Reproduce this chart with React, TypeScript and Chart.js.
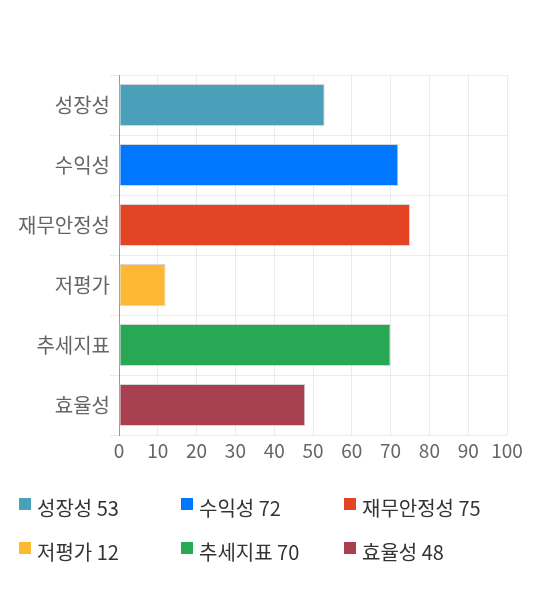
import React, { useEffect, useRef } from 'react';
import { Chart, ChartConfiguration, registerables } from 'chart.js';

Chart.register(...registerables);

const categories = ['성장성', '수익성', '재무안정성', '저평가', '추세지표', '효율성'];
const scores = [53, 72, 75, 12, 70, 48];
const barColors = ['#4aa0b8', '#0077ff', '#e34524', '#ffb833', '#28a755', '#a8404f'];
const xTicks = [0, 10, 20, 30, 40, 50, 60, 70, 80, 90, 100];

const FONT = '"Noto Sans CJK KR", "Noto Sans", sans-serif';

export default function App() {
  const canvasRef = useRef<HTMLCanvasElement | null>(null);
  const chartRef = useRef<Chart<'bar'> | null>(null);

  useEffect(() => {
    if (!canvasRef.current) return;
    const config: ChartConfiguration<'bar'> = {
      type: 'bar',
      data: {
        labels: categories,
        datasets: [
          {
            data: scores,
            backgroundColor: barColors,
            borderColor: 'rgba(210,210,210,0.9)',
            borderWidth: 1,
            borderSkipped: false,
            categoryPercentage: 0.8,
            barPercentage: 0.88,
          },
        ],
      },
      options: {
        indexAxis: 'y',
        animation: false,
        responsive: false,
        maintainAspectRatio: false,
        layout: { padding: { top: 75, right: 33, left: 0, bottom: 0 } },
        plugins: {
          legend: { display: false },
          tooltip: { enabled: false },
        },
        scales: {
          x: {
            min: 0,
            max: 100,
            afterFit: (scale: any) => {
              scale.height = 35;
            },
            afterBuildTicks: (scale: any) => {
              scale.ticks = xTicks.map((v) => ({ value: v }));
            },
            grid: { color: '#ebebeb', drawTicks: false },
            border: { display: false },
            ticks: { color: '#666', font: { family: FONT, size: 19 }, padding: 4 },
          },
          y: {
            afterFit: (scale: any) => {
              scale.width = 119;
            },
            grid: { color: '#ebebeb', offset: true, tickLength: 9 },
            border: { color: '#999' },
            ticks: { color: '#666', font: { family: FONT, size: 20 }, padding: 0 },
          },
        },
      },
    };
    chartRef.current = new Chart(canvasRef.current, config);
    return () => {
      chartRef.current?.destroy();
    };
  }, []);

  return (
    <div style={{ position: 'fixed', left: 0, top: 0, width: 540, height: 590, background: '#fff', fontFamily: FONT }}>
      <canvas ref={canvasRef} width={540} height={470} style={{ display: 'block' }} />
      <div style={{ display: 'grid', gridTemplateColumns: '162px 163px 200px', rowGap: 24, paddingLeft: 19, marginTop: 28 }}>
        {categories.map((c, i) => (
          <div key={c} style={{ display: 'flex', alignItems: 'flex-start', fontSize: 20, color: '#333', lineHeight: '20px' }}>
            <span style={{ display: 'inline-block', width: 12, height: 12, background: barColors[i], marginTop: 0, marginRight: 6 }} />
            <span>{c} {scores[i]}</span>
          </div>
        ))}
      </div>
    </div>
  );
}
